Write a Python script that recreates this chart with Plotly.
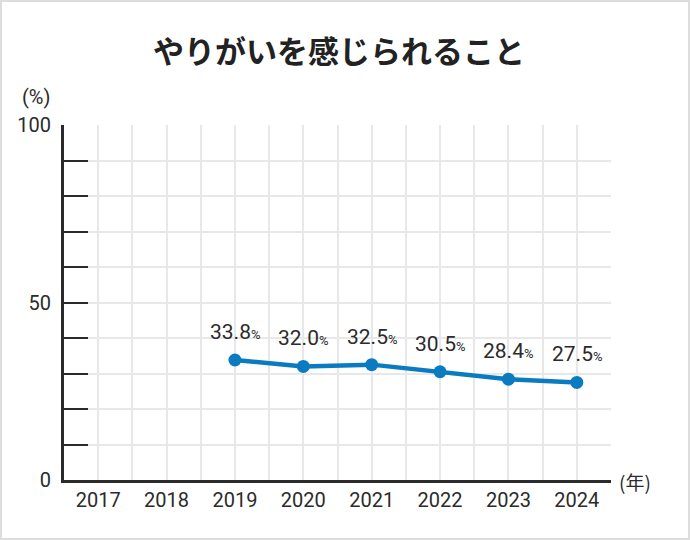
import plotly.graph_objects as go

# data
years = [2019, 2020, 2021, 2022, 2023, 2024]
values = [33.8, 32.0, 32.5, 30.5, 28.4, 27.5]
year_ticks = [2017, 2018, 2019, 2020, 2021, 2022, 2023, 2024]
y_ticks = [0, 50, 100]

W, H = 690, 540
L, R, T, B = 64, 79, 125, 60
pw, ph = W - L - R, H - T - B
DARK = "#2b2b2b"
BLUE = "#0b7bc1"
GRID = "#e8e8e8"

def px_x(p):
    return (p - L) / pw

def px_y(p):
    return (H - B - p) / ph

fig = go.Figure(go.Scatter(
    x=years, y=values,
    mode="lines+markers",
    line=dict(color=BLUE, width=4.5),
    marker=dict(color=BLUE, size=13),
    cliponaxis=False,
    hoverinfo="skip",
))

# value labels above each point
for yr, v in zip(years, values):
    fig.add_annotation(
        x=yr, y=v, yshift=28, showarrow=False,
        text=f"{v:.1f}<span style='font-size:13px'>%</span>",
        font=dict(family="Roboto", size=21, color=DARK),
    )

fig.update_xaxes(
    range=[2016.5, 2024.5],
    tickvals=year_ticks,
    ticktext=[str(y) for y in year_ticks],
    ticks="", showgrid=True, gridcolor=GRID, gridwidth=2,
    minor=dict(dtick=0.5, tick0=2016.5, showgrid=True, gridcolor=GRID, gridwidth=2),
    showline=True, linecolor=DARK, linewidth=3,
    tickfont=dict(family="Roboto", size=20, color=DARK),
    zeroline=False, fixedrange=True,
)
fig.update_yaxes(
    range=[0, 100],
    tickvals=y_ticks,
    ticks="inside", ticklen=24, tickwidth=2, tickcolor=DARK,
    ticklabelstandoff=6,
    showgrid=True, gridcolor=GRID, gridwidth=2,
    minor=dict(dtick=10, ticks="inside", ticklen=24, tickwidth=2, tickcolor=DARK,
               showgrid=True, gridcolor=GRID, gridwidth=2),
    showline=True, linecolor=DARK, linewidth=3,
    tickfont=dict(family="Roboto", size=20, color=DARK),
    zeroline=False, fixedrange=True,
)

fig.add_annotation(x=px_x(339), y=px_y(49), xref="paper", yref="paper",
                   xanchor="center", yanchor="middle",
                   text="<b>やりがいを感じられること</b>", showarrow=False,
                   font=dict(family="Noto Sans CJK JP", size=31, color="#222222"))
fig.add_annotation(x=px_x(36), y=px_y(97), xref="paper", yref="paper",
                   xanchor="center", yanchor="middle",
                   text="(%)", showarrow=False,
                   font=dict(family="Roboto", size=20, color=DARK))
fig.add_annotation(x=px_x(635), y=px_y(481), xref="paper", yref="paper",
                   xanchor="center", yanchor="middle",
                   text="(年)", showarrow=False,
                   font=dict(family="Noto Sans CJK JP", size=19, color=DARK))

fig.add_shape(type="rect", xref="paper", yref="paper",
              x0=px_x(1), x1=px_x(689), y0=px_y(539), y1=px_y(1),
              line=dict(color="#dddddd", width=2), fillcolor="rgba(0,0,0,0)")

fig.update_layout(
    width=W, height=H,
    margin=dict(l=L, r=R, t=T, b=B),
    paper_bgcolor="white", plot_bgcolor="white",
    showlegend=False,
)

fig.write_html("out.html", config={"displayModeBar": False},
               post_script="document.body.style.margin='0';")
